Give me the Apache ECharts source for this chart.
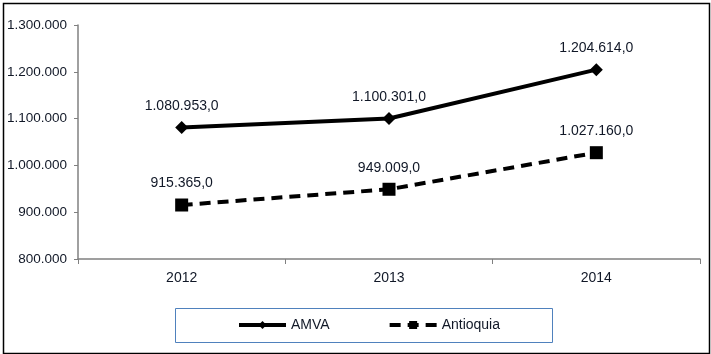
<!DOCTYPE html>
<html>
<head>
<meta charset="utf-8">
<script src="https://cdn.jsdelivr.net/npm/echarts@6/dist/echarts.min.js"></script>
<style>
  html, body { margin: 0; padding: 0; background: #fff; }
  #chart { width: 711px; height: 354px; }
</style>
</head>
<body>
<div id="chart"></div>
<script>
const years = ['2012', '2013', '2014']
const amva = [1080953, 1100301, 1204614]
const antioquia = [915365, 949009, 1027160]

const textColor = '#111827'

// 1080953 -> "1.080.953,0"
function fmt(v, dec) {
  const s = String(Math.round(v)).replace(/\B(?=(\d{3})+(?!\d))/g, '.')
  return dec ? s + ',0' : s
}

const chart = echarts.init(document.getElementById('chart'))

const option = {
  animation: false,
  textStyle: { fontFamily: 'Liberation Sans, Arial, sans-serif' },
  grid: { left: 78, right: 11, top: 25, bottom: 95 },
  xAxis: {
    type: 'category',
    data: years,
    boundaryGap: true,
    axisLine: { lineStyle: { color: '#808080', width: 1.5 } },
    axisTick: { show: true, length: 5, lineStyle: { color: '#808080' } },
    axisLabel: { color: textColor, fontSize: 14, margin: 12 },
  },
  yAxis: {
    type: 'value',
    min: 800000,
    max: 1300000,
    interval: 100000,
    axisLine: { show: true, lineStyle: { color: '#808080', width: 1.5 } },
    axisTick: { show: true, length: 4, lineStyle: { color: '#808080' } },
    splitLine: { show: false },
    axisLabel: { color: textColor, fontSize: 13.5, margin: 11, formatter: v => fmt(v) },
  },
  legend: {
    bottom: 17,
    left: 232,
    itemWidth: 47,
    itemHeight: 10,
    itemGap: 58,
    lineStyle: { width: 4 },
    textStyle: { color: textColor, fontSize: 14 },
    data: ['AMVA', 'Antioquia'],
  },
  graphic: [
    {
      type: 'rect',
      left: 1, top: 1,
      shape: { width: 706, height: 350 },
      style: { fill: 'none', stroke: '#000', lineWidth: 1.5 },
      silent: true,
    },
    {
      type: 'rect',
      left: 173, top: 306,
      shape: { width: 377, height: 34 },
      style: { fill: 'none', stroke: '#4F81BD', lineWidth: 1 },
      silent: true,
    },
  ],
  series: [
    {
      name: 'AMVA',
      type: 'line',
      data: amva,
      symbol: 'diamond',
      symbolSize: 13,
      lineStyle: { color: '#000', width: 4 },
      itemStyle: { color: '#000' },
      label: {
        show: true, position: 'top', distance: 8,
        color: textColor, fontSize: 14,
        formatter: p => fmt(p.value, true),
      },
    },
    {
      name: 'Antioquia',
      type: 'line',
      data: antioquia,
      symbol: 'rect',
      symbolSize: 13,
      lineStyle: { color: '#000', width: 4, type: [11, 7] },
      itemStyle: { color: '#000' },
      label: {
        show: true, position: 'top', distance: 8,
        color: textColor, fontSize: 14,
        formatter: p => fmt(p.value, true),
      },
    },
  ],
}

chart.setOption(option)
</script>
</body>
</html>
